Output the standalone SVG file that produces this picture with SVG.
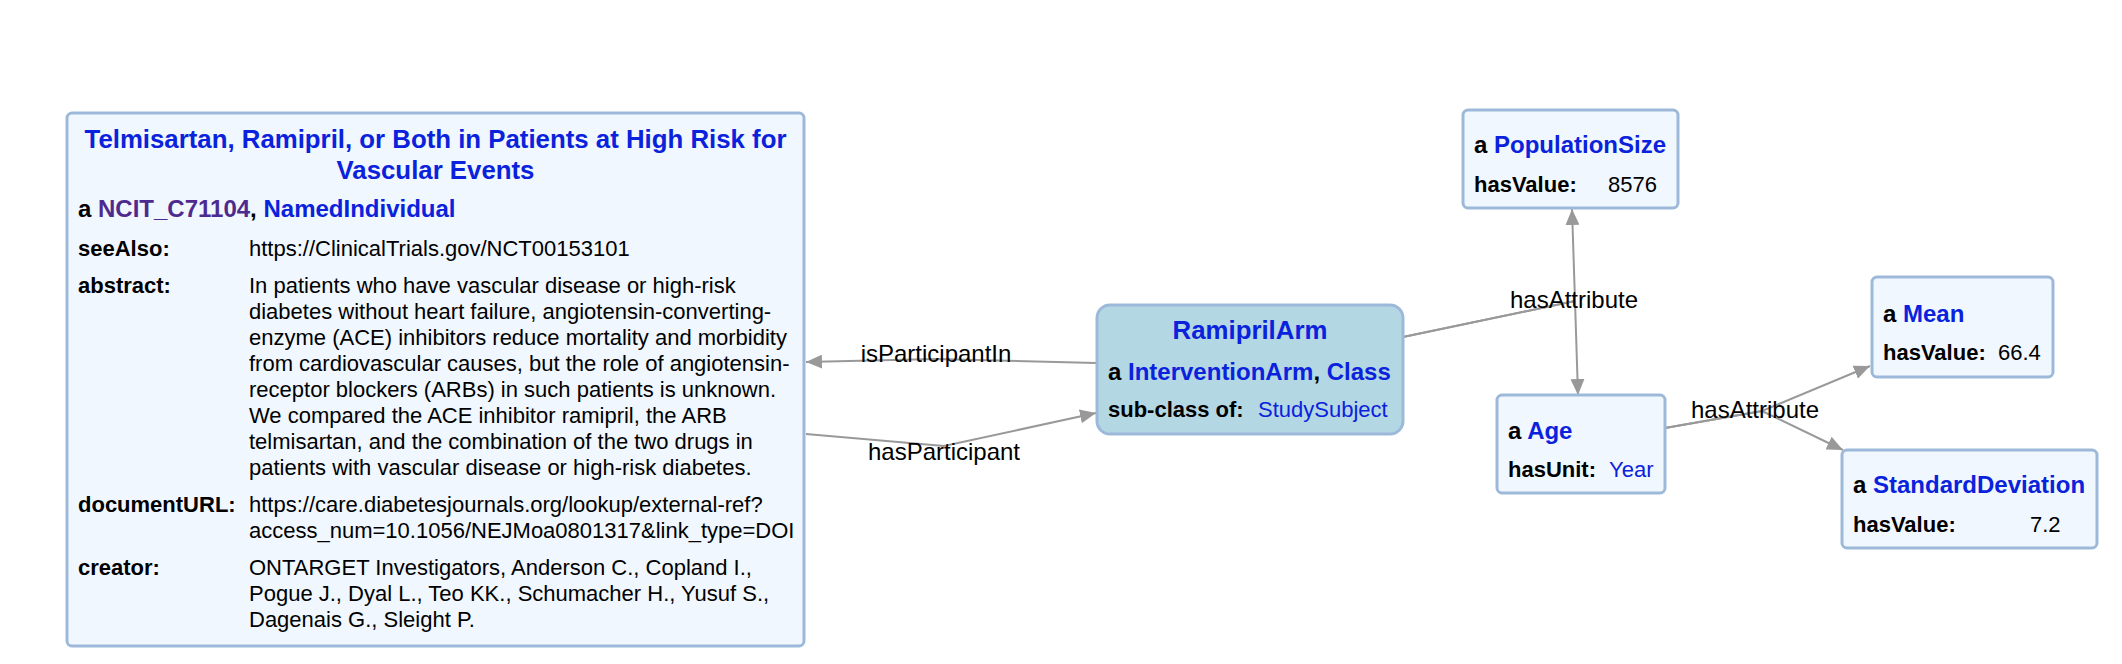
<svg xmlns="http://www.w3.org/2000/svg" width="2122" height="664" viewBox="0 0 2122 664">
<style>
text{font-family:"Liberation Sans",Arial,Helvetica,sans-serif;fill:#000}
.box{fill:#f0f7fe;stroke:#9db9d9;stroke-width:3}
.cls{fill:#b4d7e4;stroke:#9db9d9;stroke-width:3}
.ttl{font-size:25.8px;font-weight:bold;fill:#0a22dc}
.typ{font-size:24px;font-weight:bold}
.lbl{font-size:22px;font-weight:bold}
.val{font-size:22px}
.blue{fill:#0a22dc}
.purple{fill:#4e2a8e}
.edge{fill:none;stroke:#999;stroke-width:2}
.elbl{font-size:24px}
</style>
<defs>
<marker id="arr" viewBox="0 0 16 14" refX="16" refY="7" markerWidth="16" markerHeight="14" markerUnits="userSpaceOnUse" orient="auto">
<path d="M0,0 L16,7 L0,14 Z" fill="#999"/>
</marker>
</defs>
<rect width="2122" height="664" fill="#fff"/>
<g id="connectors">
<path class="edge" d="M1096,363 L936,359 L806,362" marker-end="url(#arr)"/>
<path class="edge" d="M806,434 L944,446 L1096,413" marker-end="url(#arr)"/>
<path class="edge" d="M1403,337 L1575,301 L1572,209" marker-end="url(#arr)"/>
<path class="edge" d="M1403,337 L1575,301 L1578,395" marker-end="url(#arr)"/>
<path class="edge" d="M1665,428 L1762,411 L1870,366" marker-end="url(#arr)"/>
<path class="edge" d="M1665,428 L1762,411 L1843,450" marker-end="url(#arr)"/>
<text class="elbl" x="936" y="362" text-anchor="middle">isParticipantIn</text>
<text class="elbl" x="944" y="460" text-anchor="middle">hasParticipant</text>
<text class="elbl" x="1574" y="308" text-anchor="middle">hasAttribute</text>
<text class="elbl" x="1755" y="418" text-anchor="middle">hasAttribute</text>
</g>
<g id="trial">
<rect class="box" x="67" y="113" width="737" height="533" rx="5"/>
<text class="ttl" x="435.5" y="148" text-anchor="middle">Telmisartan, Ramipril, or Both in Patients at High Risk for</text>
<text class="ttl" x="435.5" y="179" text-anchor="middle">Vascular Events</text>
<text class="typ" x="78" y="217">a <tspan class="purple">NCIT_C71104</tspan>, <tspan class="blue">NamedIndividual</tspan></text>
<text class="lbl" x="78" y="256">seeAlso:</text>
<text class="val" x="249" y="256">https://ClinicalTrials.gov/NCT00153101</text>
<text class="lbl" x="78" y="293">abstract:</text>
<text class="val" x="249" y="293">In patients who have vascular disease or high-risk</text>
<text class="val" x="249" y="319">diabetes without heart failure, angiotensin-converting-</text>
<text class="val" x="249" y="345">enzyme (ACE) inhibitors reduce mortality and morbidity</text>
<text class="val" x="249" y="371">from cardiovascular causes, but the role of angiotensin-</text>
<text class="val" x="249" y="397">receptor blockers (ARBs) in such patients is unknown.</text>
<text class="val" x="249" y="423">We compared the ACE inhibitor ramipril, the ARB</text>
<text class="val" x="249" y="449">telmisartan, and the combination of the two drugs in</text>
<text class="val" x="249" y="475">patients with vascular disease or high-risk diabetes.</text>
<text class="lbl" x="78" y="512">documentURL:</text>
<text class="val" x="249" y="512">https://care.diabetesjournals.org/lookup/external-ref?</text>
<text class="val" x="249" y="538">access_num=10.1056/NEJMoa0801317&amp;link_type=DOI</text>
<text class="lbl" x="78" y="575">creator:</text>
<text class="val" x="249" y="575">ONTARGET Investigators, Anderson C., Copland I.,</text>
<text class="val" x="249" y="601">Pogue J., Dyal L., Teo KK., Schumacher H., Yusuf S.,</text>
<text class="val" x="249" y="627">Dagenais G., Sleight P.</text>
</g>
<g id="ramiprilArm">
<rect class="cls" x="1097" y="305" width="306" height="129" rx="13"/>
<text class="ttl" x="1250" y="339" text-anchor="middle">RamiprilArm</text>
<text class="typ" x="1108" y="380">a <tspan class="blue">InterventionArm</tspan>, <tspan class="blue">Class</tspan></text>
<text class="lbl" x="1108" y="417">sub-class of:</text>
<text class="val blue" x="1258" y="417">StudySubject</text>
</g>
<g id="populationSize">
<rect class="box" x="1463" y="110" width="215" height="98" rx="5"/>
<text class="typ" x="1474" y="153">a <tspan class="blue">PopulationSize</tspan></text>
<text class="lbl" x="1474" y="192">hasValue:</text>
<text class="val" x="1608" y="192">8576</text>
</g>
<g id="age">
<rect class="box" x="1497" y="395" width="168" height="98" rx="5"/>
<text class="typ" x="1508" y="439">a <tspan class="blue">Age</tspan></text>
<text class="lbl" x="1508" y="477">hasUnit:</text>
<text class="val blue" x="1609" y="477">Year</text>
</g>
<g id="mean">
<rect class="box" x="1872" y="277" width="181" height="100" rx="5"/>
<text class="typ" x="1883" y="322">a <tspan class="blue">Mean</tspan></text>
<text class="lbl" x="1883" y="360">hasValue:</text>
<text class="val" x="1998" y="360">66.4</text>
</g>
<g id="standardDeviation">
<rect class="box" x="1842" y="450" width="255" height="98" rx="5"/>
<text class="typ" x="1853" y="493">a <tspan class="blue">StandardDeviation</tspan></text>
<text class="lbl" x="1853" y="532">hasValue:</text>
<text class="val" x="2030" y="532">7.2</text>
</g>
</svg>
